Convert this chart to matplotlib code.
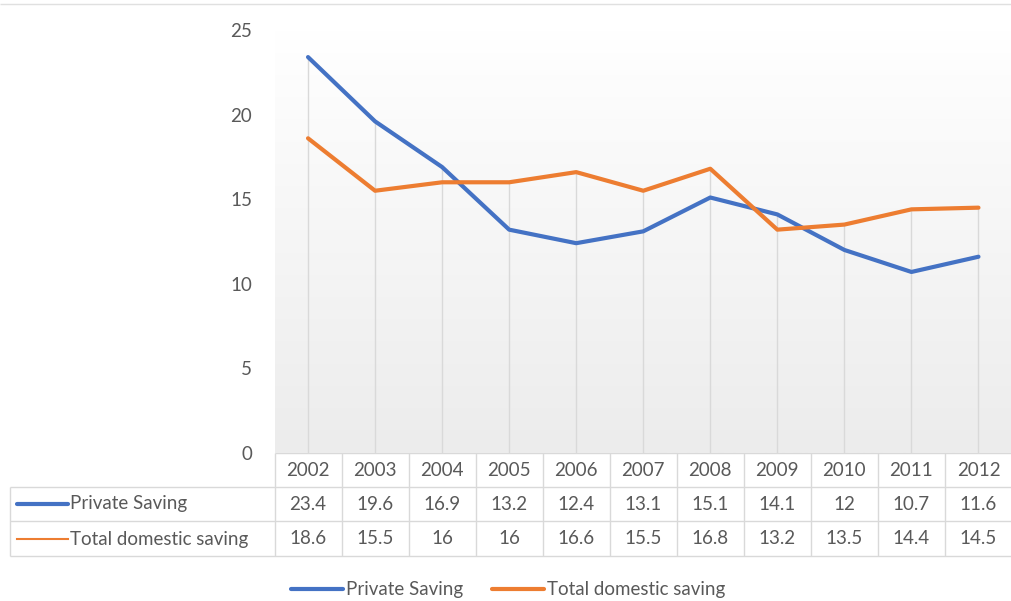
import numpy as np
import matplotlib
matplotlib.use("Agg")
import matplotlib.pyplot as plt
from matplotlib.transforms import blended_transform_factory

years = ["2002", "2003", "2004", "2005", "2006", "2007", "2008", "2009", "2010", "2011", "2012"]
private_saving = [23.4, 19.6, 16.9, 13.2, 12.4, 13.1, 15.1, 14.1, 12, 10.7, 11.6]
total_saving = [18.6, 15.5, 16, 16, 16.6, 15.5, 16.8, 13.2, 13.5, 14.4, 14.5]
series_names = ["Private Saving", "Total domestic saving"]
y_ticks = [0, 5, 10, 15, 20, 25]

blue = "#4472C4"
orange = "#ED7D31"
txt = "#595959"
grid = "#d9d9d9"
fs = 13.5

plt.rcParams['font.family'] = ['Lato', 'DejaVu Sans']

W, H = 1011, 601
fig = plt.figure(figsize=(W / 100, H / 100), dpi=100)

# pixel-space layer for the data table and frame
base = fig.add_axes([0, 0, 1, 1])
base.set_xlim(0, W)
base.set_ylim(H, 0)
base.axis("off")

ax = fig.add_axes([274.5 / W, (H - 453) / H, (1012 - 274.5) / W, (453 - 30) / H])
x = np.arange(len(years))
ax.set_xlim(-0.5, len(years) - 0.5)
ax.set_ylim(0, 25)

# soft vertical gradient in the plot area
grad = np.linspace(0, 1, 256).reshape(-1, 1)
ax.imshow(grad, extent=[-0.5, len(years) - 0.5, 0, 25], aspect="auto",
          cmap=matplotlib.colors.LinearSegmentedColormap.from_list("g", ["#ececec", "#ffffff"]),
          origin="lower", zorder=0)

# drop lines
ax.vlines(x, 0, np.maximum(private_saving, total_saving), color=grid, lw=1, zorder=1)

l1, = ax.plot(x, private_saving, color=blue, lw=3, solid_capstyle="round", zorder=3, label=series_names[0])
l2, = ax.plot(x, total_saving, color=orange, lw=3, solid_capstyle="round", zorder=3, label=series_names[1])

for s in ax.spines.values():
    s.set_visible(False)
ax.set_xticks([])
ax.set_yticks(y_ticks)
ax.tick_params(axis="y", length=0, pad=16, labelsize=fs, labelcolor=txt)

# data table under the chart
tr = blended_transform_factory(ax.transData, base.transData)
rows_y = [470, 504, 539]
for i in x:
    base.text(i, rows_y[0], years[i], transform=tr, ha="center", va="center", fontsize=fs, color=txt)
    base.text(i, rows_y[1], f"{private_saving[i]:g}", transform=tr, ha="center", va="center", fontsize=fs, color=txt)
    base.text(i, rows_y[2], f"{total_saving[i]:g}", transform=tr, ha="center", va="center", fontsize=fs, color=txt)
base.vlines(np.arange(len(years) + 1) - 0.5, 453, 556, transform=tr, color=grid, lw=1)
base.hlines(453, 274.5, W, color=grid, lw=1)
base.hlines([487, 521, 556], 10, W, color=grid, lw=1)
base.vlines(10, 487, 556, color=grid, lw=1)

base.plot([17, 68], [rows_y[1], rows_y[1]], color=blue, lw=3, solid_capstyle="round")
base.plot([17, 68], [rows_y[2], rows_y[2]], color=orange, lw=1.5)
base.text(70, rows_y[1], series_names[0], ha="left", va="center", fontsize=fs, color=txt)
base.text(70, rows_y[2], series_names[1], ha="left", va="center", fontsize=fs, color=txt)

# top frame line
base.hlines(4, 0, W, color="#e0e0e0", lw=1)

fig.legend(handles=[l1, l2], loc="center", bbox_to_anchor=(508 / W, 1 - 590 / H),
           ncol=2, frameon=False, fontsize=fs, labelcolor=txt,
           handlelength=2.8, handletextpad=0.15, columnspacing=1.5)

fig.savefig("out.png", dpi=100)
